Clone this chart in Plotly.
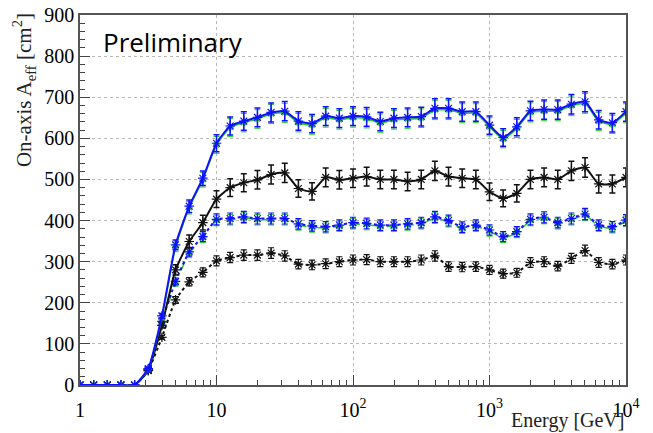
import plotly.graph_objects as go

# Energy bins: 10 per decade from 1 GeV to 10 TeV
log_energy = [k / 10 for k in range(41)]
energy = [10 ** v for v in log_energy]

blue_solid = [0, 0, 0, 0, 0, 40, 168, 341, 435, 503, 588, 630, 642, 651, 663, 666, 642, 636, 654, 649,
              654, 652, 641, 649, 651, 653, 673, 673, 665, 665, 632, 602, 628, 667, 670, 670, 683, 689, 645, 638, 665]
green_solid = [0, 0, 0, 0, 0, 38, 164, 336, 431, 499, 584, 626, 638, 647, 659, 662, 638, 632, 650, 645,
               650, 648, 637, 645, 647, 649, 669, 669, 661, 661, 628, 598, 624, 663, 666, 666, 679, 685, 641, 634, 661]
black_solid = [0, 0, 0, 0, 0, 35, 145, 280, 349, 395, 452, 480, 492, 499, 512, 516, 478, 471, 505, 499,
               503, 507, 500, 500, 495, 500, 521, 507, 503, 500, 470, 454, 466, 500, 505, 500, 521, 529, 489, 489, 505]
blue_dotted = [0, 0, 0, 0, 0, 38, 155, 252, 324, 361, 403, 405, 409, 405, 405, 405, 392, 387, 385, 389,
               395, 393, 389, 389, 392, 395, 409, 400, 384, 389, 377, 361, 373, 403, 408, 395, 405, 416, 389, 385, 401]
green_dotted = [0, 0, 0, 0, 0, 36, 152, 248, 320, 358, 400, 402, 406, 402, 402, 402, 389, 384, 382, 386,
                392, 390, 386, 386, 389, 392, 406, 397, 381, 386, 374, 358, 370, 400, 405, 392, 402, 413, 386, 382, 398]
black_dotted = [0, 0, 0, 0, 0, 36, 116, 207, 251, 274, 302, 310, 316, 316, 321, 314, 294, 292, 295, 300,
                304, 305, 300, 300, 300, 304, 314, 288, 287, 288, 280, 271, 273, 298, 300, 289, 308, 327, 298, 294, 304]

x_tickvals = [1, 10, 100, 1000, 10000]
x_ticktext = ["1", "10", "10<sup>2</sup>", "10<sup>3</sup>", "10<sup>4</sup>"]
y_tickvals = [0, 100, 200, 300, 400, 500, 600, 700, 800, 900]

BLUE = "#1010ff"
GREEN = "#22cc22"
BLACK = "#111111"
SERIF = "Liberation Serif"


def series(y, color, dash, err_pct, width=2, err_width=1.5, msize=8):
    return go.Scatter(
        x=energy, y=y, mode="lines+markers",
        line=dict(color=color, width=width, dash=dash, shape="spline", smoothing=0.5),
        marker=dict(symbol="asterisk-open", size=msize, line=dict(color=color, width=1.2), color=color),
        error_y=dict(type="percent", value=err_pct, color=color, thickness=err_width, width=3),
        showlegend=False, hoverinfo="x+y",
    )


fig = go.Figure()
fig.add_trace(series(black_dotted, BLACK, "dot", 4.0, err_width=1.2))
fig.add_trace(series(green_dotted, GREEN, "dash", 3.2, width=1.5, err_width=1.0, msize=6))
fig.add_trace(series(blue_dotted, BLUE, "dot", 3.3, err_width=1.2))
fig.add_trace(series(black_solid, BLACK, "solid", 4.5))
fig.add_trace(series(green_solid, GREEN, "solid", 3.5, width=1.5, err_width=1.0, msize=6))
fig.add_trace(series(blue_solid, BLUE, "solid", 3.5))

# the page body has an 8px default margin, so the figure is shrunk and shifted by that much
fig.update_layout(
    width=645, height=425,
    margin=dict(l=72, r=27, t=7, b=48, autoexpand=False),
    paper_bgcolor="white", plot_bgcolor="white",
    font=dict(family=SERIF, size=20, color="black"),
    xaxis=dict(
        type="log", range=[0, 4],
        tickvals=x_tickvals, ticktext=x_ticktext,
        ticks="inside", ticklen=10, tickwidth=1, tickcolor="#444",
        minor=dict(ticks="inside", ticklen=5, tickwidth=1, tickcolor="#444", dtick="D1", showgrid=False),
        showgrid=True, gridcolor="#b8b8b8", griddash="dot", gridwidth=1,
        showline=True, linecolor="#555", linewidth=1.5, mirror=True,
        zeroline=False, tickfont=dict(family=SERIF, size=20), ticklabelstandoff=6,
        automargin=False, ticklabeloverflow="allow",
    ),
    yaxis=dict(
        range=[0, 900], tickvals=y_tickvals,
        ticks="inside", ticklen=10, tickwidth=1, tickcolor="#444",
        minor=dict(ticks="inside", ticklen=5, tickwidth=1, tickcolor="#444", dtick=20, showgrid=False),
        showgrid=True, gridcolor="#b8b8b8", griddash="dot", gridwidth=1,
        showline=True, linecolor="#555", linewidth=1.5, mirror=True,
        zeroline=False, tickfont=dict(family=SERIF, size=20), ticklabelstandoff=0,
        automargin=False, ticklabeloverflow="allow",
    ),
    annotations=[
        dict(text="Preliminary", xref="paper", yref="paper", x=0.038, y=0.927,
             xanchor="left", yanchor="middle", showarrow=False,
             font=dict(family="Open Sans", size=26, color="black")),
        dict(text="On-axis A<sub>eff</sub> [cm<sup>2</sup>]", xref="paper", yref="paper",
             x=-0.103, y=1.01, xanchor="center", yanchor="top", textangle=-90, showarrow=False,
             font=dict(family=SERIF, size=21, color="#222")),
        dict(text="Energy [GeV]", xref="paper", yref="paper", x=1.0, y=-0.097,
             xanchor="right", yanchor="middle", showarrow=False,
             font=dict(family=SERIF, size=20, color="#222")),
    ],
)

fig.write_html("out.html")
